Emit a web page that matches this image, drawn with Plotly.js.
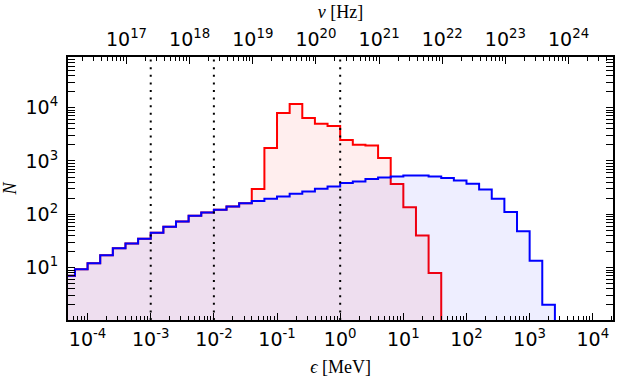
<!DOCTYPE html>
<html>
<head>
<meta charset="utf-8">
<script src="https://cdn.plot.ly/plotly-3.0.1.min.js"></script>
<style>
  html, body { margin: 0; padding: 0; background: #fff; }
  #chart { width: 619px; height: 382px; }
</style>
</head>
<body>
<div id="chart"></div>
<script>
// log10 of the first bin edge and bin width (in decades of MeV)
const binLogStart = -4.4;
const binLogWidth = 0.2;

// blue histogram, one count per bin, from 10^-4.4 MeV up
const blueCounts = [7.0, 9.3, 12.1, 17.1, 23.1, 28.2, 34.6, 44.8, 58.2, 73.1,
  93.5, 108, 121, 140, 161, 177, 195, 216, 243, 268,
  301, 332, 385, 413, 458, 491, 513, 535, 535, 513,
  479, 431, 373, 292, 195, 110, 48.3, 13.5, 2.0];

// red histogram, same bins; its filled area runs under the blue line at low energy
const redCounts = [7.0, 9.3, 12.1, 17.1, 23.1, 28.2, 34.6, 44.8, 58.2, 73.1,
  93.5, 108, 121, 140, 161, 297, 1750, 7960, 11750, 6410,
  5010, 4530, 2470, 2020, 1960, 1135, 369, 136, 39.9, 7.9];

// dotted reference energies (MeV)
const markerEnergies = [1e-3, 1e-2, 1];

const xTickVals = [1e-4, 1e-3, 1e-2, 1e-1, 1, 1e1, 1e2, 1e3, 1e4];
const xTickText = ['10<sup>-4</sup>', '10<sup>-3</sup>', '10<sup>-2</sup>', '10<sup>-1</sup>',
  '10<sup>0</sup>', '10<sup>1</sup>', '10<sup>2</sup>', '10<sup>3</sup>', '10<sup>4</sup>'];
const yTickVals = [10, 100, 1000, 10000];
const yTickText = ['10<sup>1</sup>', '10<sup>2</sup>', '10<sup>3</sup>', '10<sup>4</sup>'];
const nuTickVals = [1e17, 1e18, 1e19, 1e20, 1e21, 1e22, 1e23, 1e24];
const nuTickText = ['10<sup>17</sup>', '10<sup>18</sup>', '10<sup>19</sup>', '10<sup>20</sup>',
  '10<sup>21</sup>', '10<sup>22</sup>', '10<sup>23</sup>', '10<sup>24</sup>'];

const HZ_PER_MEV = 2.418e20;
const FLOOR = 1e-3; // below the axis, used to drop the step to the bottom

function stepTrace(counts, line, fill) {
  const x = [], y = [];
  counts.forEach((c, i) => {
    x.push(Math.pow(10, binLogStart + i * binLogWidth));
    y.push(c);
  });
  x.push(Math.pow(10, binLogStart + counts.length * binLogWidth));
  y.push(FLOOR);
  return {
    type: 'scatter', mode: 'lines', x: x, y: y,
    line: { shape: 'hv', color: line, width: 2 },
    fill: 'tozeroy', fillcolor: fill,
    hoverinfo: 'skip', showlegend: false
  };
}

const xRange = [-4.31, 4.32];
const logHz = Math.log10(HZ_PER_MEV);

const data = [
  stepTrace(redCounts, '#ff0000', 'rgba(255,0,0,0.065)'),
  stepTrace(blueCounts, '#0000ff', 'rgba(0,0,255,0.065)')
];

const tickFont = { family: 'DejaVu Sans', size: 19, color: '#000' };
const titleFont = { family: 'Liberation Serif', size: 18, color: '#000' };
const minorTicks = { ticks: 'inside', ticklen: 4, tickcolor: '#000', tickwidth: 1, dtick: 'D1' };

const layout = {
  width: 619, height: 382,
  margin: { l: 68, r: 6, t: 57, b: 62 },
  paper_bgcolor: '#fff', plot_bgcolor: '#fff',
  showlegend: false,
  xaxis: {
    type: 'log', range: xRange, side: 'bottom',
    showgrid: false, zeroline: false,
    showline: true, linecolor: '#000', linewidth: 2, mirror: false,
    ticks: 'inside', ticklen: 7, tickwidth: 1, tickcolor: '#000',
    tickmode: 'array', tickvals: xTickVals, ticktext: xTickText,
    tickfont: tickFont, minor: minorTicks, ticklabelstandoff: 1,
    title: { text: '<i>ϵ</i> [MeV]', font: titleFont, standoff: 12 }
  },
  xaxis2: {
    type: 'log', range: [xRange[0] + logHz, xRange[1] + logHz],
    overlaying: 'x', side: 'top', anchor: 'y',
    showgrid: false, zeroline: false,
    showline: true, linecolor: '#000', linewidth: 2,
    ticks: 'inside', ticklen: 7, tickwidth: 1, tickcolor: '#000',
    tickmode: 'array', tickvals: nuTickVals, ticktext: nuTickText,
    tickfont: tickFont, minor: minorTicks, ticklabelstandoff: 1,
    title: { text: '<i>ν</i> [Hz]', font: titleFont, standoff: 3 }
  },
  yaxis: {
    type: 'log', range: [0.017, 4.95],
    showgrid: false, zeroline: false,
    showline: true, linecolor: '#000', linewidth: 2, mirror: 'allticks',
    ticks: 'inside', ticklen: 7, tickwidth: 1, tickcolor: '#000',
    tickmode: 'array', tickvals: yTickVals, ticktext: yTickText,
    tickfont: tickFont, minor: minorTicks, ticklabelstandoff: 4,
    title: { text: '<i>N</i>', font: titleFont, standoff: 4 }
  },
  shapes: markerEnergies.map(e => ({
    type: 'line', xref: 'x', yref: 'paper', x0: e, x1: e, y0: 0, y1: 1,
    line: { color: '#000', width: 2, dash: '2px,5.6px' }
  }))
};

// keep xaxis2 alive with an invisible point
data.push({ type: 'scatter', mode: 'markers', x: [1e20], y: [null], xaxis: 'x2', yaxis: 'y',
  hoverinfo: 'skip', showlegend: false });

Plotly.newPlot('chart', data, layout, { displayModeBar: false, staticPlot: true });
</script>
</body>
</html>
